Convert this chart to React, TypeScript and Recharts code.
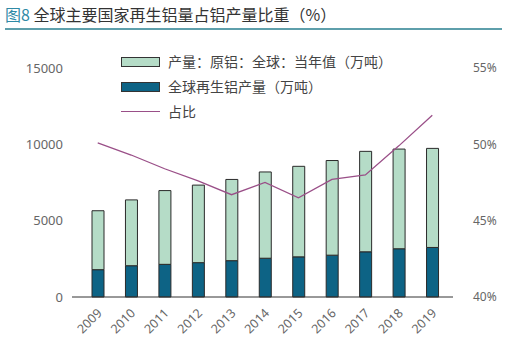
import React from "react";
import { ComposedChart, Bar, Line, XAxis, YAxis, Legend } from "recharts";

const years = ["2009", "2010", "2011", "2012", "2013", "2014", "2015", "2016", "2017", "2018", "2019"];
const recycled = [1790, 2050, 2140, 2250, 2380, 2540, 2630, 2740, 2960, 3160, 3245];
const primary = [3860, 4310, 4830, 5080, 5320, 5650, 5930, 6200, 6580, 6530, 6490];
const share = [50.1, 49.3, 48.4, 47.6, 46.7, 47.5, 46.5, 47.7, 48.0, 49.9, 51.9];
const leftTicks = [0, 5000, 10000, 15000];
const rightTicks = [40, 45, 50, 55];

const NAME_PRIMARY = "产量：原铝：全球：当年值（万吨）";
const NAME_RECYCLED = "全球再生铝产量（万吨）";
const NAME_SHARE = "占比";

const data = years.map((y, i) => ({
  year: y,
  recycled: recycled[i],
  primary: primary[i],
  share: share[i],
}));

const FONT = "'Noto Sans', 'Noto Sans CJK SC', sans-serif";
const CJK = "'Noto Sans CJK SC', 'Noto Sans', sans-serif";

const XTick = (props: any) => {
  const { x, y, payload } = props;
  return (
    <g transform={`translate(${x + 5},${y + 17})`}>
      <text
        x={0}
        y={0}
        textAnchor="end"
        transform="rotate(-45)"
        fill="#666"
        fontSize={12.5}
        fontFamily={FONT}
      >
        {payload.value}
      </text>
    </g>
  );
};

const LegendContent = (props: any) => {
  const { payload } = props;
  const order = [NAME_PRIMARY, NAME_RECYCLED, NAME_SHARE];
  const items = order
    .map((n) => (payload || []).find((p: any) => p.value === n))
    .filter(Boolean);
  return (
    <div style={{ fontFamily: CJK, fontSize: 14, color: "#444" }}>
      {items.map((it: any) => (
        <div key={it.value} style={{ display: "flex", alignItems: "center", height: 25 }}>
          {it.type === "line" ? (
            <div style={{ width: 39, height: 0, borderTop: `1.5px solid ${it.color}` }} />
          ) : (
            <div
              style={{
                width: 37,
                height: 8,
                background: it.color,
                border: "1px solid #333",
              }}
            />
          )}
          <span style={{ marginLeft: 8, lineHeight: "25px" }}>{it.value}</span>
        </div>
      ))}
    </div>
  );
};

export default function App() {
  return (
    <div
      style={{
        position: "absolute",
        left: 0,
        top: 0,
        width: 506,
        height: 354,
        background: "#fff",
        overflow: "hidden",
      }}
    >
      <div
        style={{
          position: "absolute",
          left: 5,
          top: 3,
          fontFamily: CJK,
          fontSize: 16,
          color: "#333",
          whiteSpace: "nowrap",
          lineHeight: "22px",
        }}
      >
        <span style={{ color: "#2f8aa6" }}>图8</span> 全球主要国家再生铝量占铝产量比重（%）
      </div>
      <div
        style={{
          position: "absolute",
          left: 5,
          top: 28,
          width: 497,
          height: 2,
          background: "#5e9fab",
        }}
      />
      <ComposedChart
        width={506}
        height={354}
        data={data}
        margin={{ top: 68, right: 0, bottom: 0, left: 0 }}
        style={{ position: "absolute", left: 0, top: 0 }}
      >
        <XAxis
          dataKey="year"
          height={57}
          padding={{ left: 9, right: 4 }}
          tickLine={false}
          tickSize={0}
          tickMargin={0}
          axisLine={{ stroke: "#333", strokeWidth: 1 }}
          tick={<XTick />}
          interval={0}
        />
        <YAxis
          yAxisId="left"
          width={72}
          domain={[0, 15000]}
          ticks={leftTicks}
          axisLine={false}
          tickLine={false}
          tickSize={0}
          tickMargin={9}
          tick={{ fill: "#666", fontSize: 13, fontFamily: FONT }}
        />
        <YAxis
          yAxisId="right"
          orientation="right"
          width={53}
          domain={[40, 55]}
          ticks={rightTicks}
          axisLine={false}
          tickLine={false}
          tickSize={0}
          tickMargin={20}
          tickFormatter={(v: number) => `${v}%`}
          tick={{ fill: "#666", fontSize: 12, fontFamily: FONT, textAnchor: "start" }}
        />
        <Legend
          layout="horizontal"
          verticalAlign="middle"
          align="center"
          wrapperStyle={{ position: "absolute", top: 49, left: 121, width: 320, height: 80 }}
          content={<LegendContent />}
        />
        <Bar
          yAxisId="left"
          dataKey="recycled"
          name={NAME_RECYCLED}
          stackId="a"
          fill="#0d6385"
          stroke="#2a2a2a"
          strokeWidth={1}
          barSize={12}
          isAnimationActive={false}
        />
        <Bar
          yAxisId="left"
          dataKey="primary"
          name={NAME_PRIMARY}
          stackId="a"
          fill="#b5dcc7"
          stroke="#2a2a2a"
          strokeWidth={1}
          barSize={12}
          isAnimationActive={false}
        />
        <Line
          yAxisId="right"
          dataKey="share"
          name={NAME_SHARE}
          type="linear"
          stroke="#9a4f88"
          strokeWidth={1.3}
          dot={false}
          activeDot={false}
          isAnimationActive={false}
        />
      </ComposedChart>
    </div>
  );
}
